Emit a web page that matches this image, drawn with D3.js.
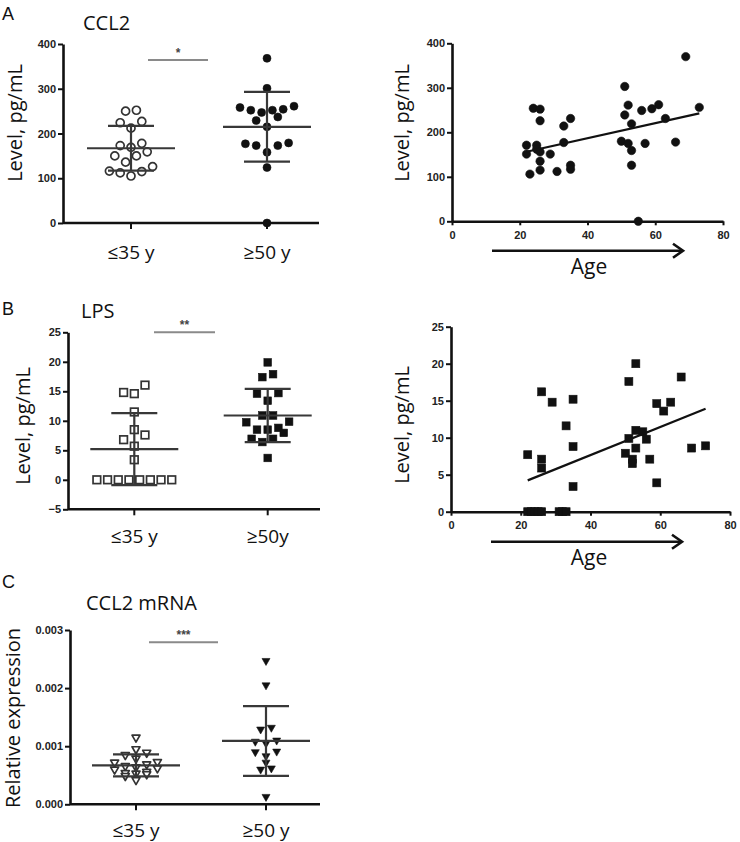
<!DOCTYPE html>
<html><head><meta charset="utf-8">
<script src="https://cdn.jsdelivr.net/npm/d3@7"></script>
<style>
html,body{margin:0;padding:0;background:#fff;}
svg{display:block;}
.tick text{font-family:"Liberation Sans",Arial,sans-serif;font-weight:bold;font-size:11px;fill:#222;}
.lbl{font-family:"Open Sans",sans-serif;fill:#111;}
.letter{font-family:"Liberation Sans",Arial,sans-serif;font-size:18px;fill:#111;}
</style></head><body>
<svg id="chart" width="740" height="842"></svg>
<script>
// ---------- data ----------
const groups = ["young", "old"];
const groupLabelsA = ["≤35 y", "≥50 y"];
const groupLabelsB = ["≤35 y", "≥50y"];
const groupLabelsC = ["≤35 y", "≥50 y"];

// Panel A: CCL2 (pg/mL)
const ccl2Young = [252, 250, 227, 224, 212, 178, 173, 169, 159, 150, 150, 136, 126, 116, 115, 112, 105];
const ccl2Old = [368, 301, 261, 258, 254, 252, 252, 247, 237, 229, 215, 179, 177, 173, 173, 158, 124, 0];
const ccl2Mean = [167, 215];
const ccl2SD = [50, 78];
const ccl2Age = [22, 22, 23, 24, 26, 26, 25, 25, 26, 26, 26, 29, 31, 33, 33, 35, 35, 35,
                 51, 51, 52, 50, 52, 53, 53, 53, 56, 59, 61, 57, 63, 66, 69, 73, 55];
const ccl2Level = [171, 151, 106, 254, 252, 226, 171, 162, 156, 135, 115, 151, 112, 214, 177, 231, 126, 117,
                   303, 239, 261, 180, 175, 159, 126, 219, 249, 253, 262, 175, 231, 178, 370, 256, 0];
const ccl2Ticks = [0, 100, 200, 300, 400];

// Panel B: LPS (pg/mL)
const lpsYoung = [16.05, 14.8, 14.6, 11.5, 8.5, 7.6, 6.8, 5.7, 3.4, 0, 0, 0, 0, 0, 0, 0, 0];
const lpsOld = [19.9, 17.9, 17.4, 14.7, 14.6, 13.4, 10.9, 10.9, 9.85, 9.75, 8.8, 8.5, 8.5, 7.95, 6.95, 6.95, 6.4, 3.7];
const lpsMean = [5.2, 10.9];
const lpsSD = [6.1, 4.5];
const lpsAge = [22, 26, 26, 26, 29, 35, 33, 35, 35, 22, 23, 24, 25, 26, 31, 32, 33,
                51, 53, 51, 50, 52, 52, 53, 53, 55, 56, 57, 59, 59, 61, 63, 66, 69, 73];
const lpsLevel = [7.7, 16.2, 7.1, 5.9, 14.8, 15.2, 11.6, 8.8, 3.4, 0, 0, 0, 0, 0, 0, 0, 0,
                  17.6, 20.0, 9.9, 7.9, 7.1, 6.5, 8.6, 11.0, 10.8, 9.8, 7.1, 14.6, 3.9, 13.6, 14.8, 18.2, 8.6, 8.9];
const lpsTicks = [-5, 0, 5, 10, 15, 20, 25];
const lpsScatterTicks = [0, 5, 10, 15, 20, 25];

// Panel C: CCL2 mRNA (relative expression)
const mrnaYoung = [0.00115, 0.00095, 0.00089, 0.00085, 0.00079, 0.00073, 0.00072, 0.00069, 0.00066,
                   0.00064, 0.00062, 0.00060, 0.00056, 0.00054, 0.00053, 0.00052, 0.00049, 0.00042];
const mrnaOld = [0.00247, 0.00205, 0.00132, 0.00129, 0.00110, 0.00108, 0.00105, 0.00091, 0.00090,
                 0.00083, 0.00072, 0.00062, 0.00060, 0.00013];
const mrnaMean = [0.00067, 0.00109];
const mrnaSD = [0.00019, 0.00060];
const mrnaTicks = [0, 0.001, 0.002, 0.003];

const ageTicks = [0, 20, 40, 60, 80];

// ---------- drawing ----------
const svg = d3.select("#chart");
const INK = "#111";
const MEANC = "#383838";

function rowOffsets(vals, y, h, d) {
  const idx = vals.map((v, i) => i).sort((a, b) => vals[a] - vals[b]);
  const off = new Array(vals.length).fill(0);
  let i = 0;
  while (i < idx.length) {
    const start = y(vals[idx[i]]);
    let j = i;
    while (j + 1 < idx.length && Math.abs(y(vals[idx[j + 1]]) - start) < h) j++;
    const row = idx.slice(i, j + 1), n = row.length;
    const slots = d3.range(n).map(k => (k - (n - 1) / 2) * d)
      .sort((a, b) => (Math.abs(a) - Math.abs(b)) || (a - b));
    row.forEach((r, k) => off[r] = slots[k]);
    i = j + 1;
  }
  return off;
}

function marker(sel, shape, filled, size) {
  const fill = filled ? INK : "#fff";
  const sw = filled ? 0.6 : 1.7;
  if (shape === "circle") {
    sel.append("circle").attr("r", size).attr("fill", fill).attr("stroke", filled ? INK : "#333").attr("stroke-width", sw);
  } else if (shape === "square") {
    sel.append("rect").attr("x", -size).attr("y", -size).attr("width", 2 * size).attr("height", 2 * size)
      .attr("fill", fill).attr("stroke", filled ? INK : "#333").attr("stroke-width", sw);
  } else {
    const w = size * 2, h = size * 1.75;
    sel.append("path").attr("d", `M${-w / 2},${-h / 3}L${w / 2},${-h / 3}L0,${2 * h / 3}Z`)
      .attr("fill", fill).attr("stroke", filled ? INK : "#333").attr("stroke-width", sw).attr("stroke-linejoin", "round");
  }
}

function styleAxis(g) {
  g.select(".domain").attr("stroke", INK).attr("stroke-width", 2.6);
  g.selectAll(".tick line").attr("stroke", INK).attr("stroke-width", 2);
}

function yLabel(text, cx, cy, size) {
  svg.append("text").attr("class", "lbl").attr("transform", `translate(${cx},${cy}) rotate(-90)`)
    .attr("text-anchor", "middle").attr("dy", "0.35em").style("font-size", size + "px").text(text);
}

function groupPanel(c) {
  const g = svg.append("g");
  const y = d3.scaleLinear().domain(c.domain).range([c.bottom, c.top]);
  const x = d3.scalePoint().domain(groups).range(c.centers);

  g.append("line").attr("x1", c.axisX).attr("x2", c.axisEnd).attr("y1", c.bottom).attr("y2", c.bottom)
    .attr("stroke", INK).attr("stroke-width", 2.6);
  groups.forEach(k => g.append("line").attr("x1", x(k)).attr("x2", x(k)).attr("y1", c.bottom).attr("y2", c.bottom + 6)
    .attr("stroke", INK).attr("stroke-width", 2));
  g.append("g").attr("transform", `translate(${c.axisX},0)`)
    .call(d3.axisLeft(y).tickValues(c.ticks).tickSize(5).tickSizeOuter(0).tickPadding(2).tickFormat(c.fmt))
    .call(styleAxis);
  groups.forEach((k, i) => g.append("text").attr("class", "lbl").attr("x", x(k)).attr("y", c.labelY)
    .attr("text-anchor", "middle").style("font-size", "19px").text(c.labels[i]));

  c.series.forEach((vals, gi) => {
    const off = rowOffsets(vals, y, c.rowH, c.spacing);
    vals.forEach((v, i) => {
      const m = g.append("g").attr("transform", `translate(${x(groups[gi]) + off[i]},${y(v)})`);
      marker(m, c.shape, gi === 1, c.size);
    });
  });
  groups.forEach((k, gi) => {
    const cx = x(k), m = c.mean[gi], s = c.sd[gi];
    const ln = (x1, x2, y1, y2) => g.append("line").attr("x1", x1).attr("x2", x2).attr("y1", y1).attr("y2", y2)
      .attr("stroke", MEANC).attr("stroke-width", 2.2);
    ln(cx - 44, cx + 44, y(m), y(m));
    ln(cx, cx, y(m - s), y(m + s));
    ln(cx - 23, cx + 23, y(m + s), y(m + s));
    ln(cx - 23, cx + 23, y(m - s), y(m - s));
  });
  g.append("line").attr("x1", c.sig.x1).attr("x2", c.sig.x2).attr("y1", c.sig.y).attr("y2", c.sig.y)
    .attr("stroke", "#8a8a8a").attr("stroke-width", 2);
  g.append("text").attr("x", (c.sig.x1 + c.sig.x2) / 2).attr("y", c.sig.y - 3).attr("text-anchor", "middle")
    .style("font-family", "Liberation Sans, Arial, sans-serif").style("font-size", "12px").style("font-weight", "bold")
    .attr("fill", "#444").text(c.sig.text);
  g.append("text").attr("class", "lbl").attr("x", c.titleX).attr("y", c.titleY).style("font-size", "20px").text(c.title);
  g.append("text").attr("class", "letter").attr("x", 2).attr("y", c.letterY).text(c.letter);
  yLabel(c.yLabel, c.yLabelX, c.yLabelY, 20);
}

function scatterPanel(c) {
  const g = svg.append("g");
  const x = d3.scaleLinear().domain([0, 80]).range([c.left, c.right]);
  const y = d3.scaleLinear().domain(c.domain).range([c.bottom, c.top]);
  g.append("g").attr("transform", `translate(0,${c.bottom})`)
    .call(d3.axisBottom(x).tickValues(ageTicks).tickSize(4).tickSizeOuter(0).tickPadding(6))
    .call(styleAxis);
  g.append("g").attr("transform", `translate(${c.left},0)`)
    .call(d3.axisLeft(y).tickValues(c.ticks).tickSize(5).tickSizeOuter(0).tickPadding(2))
    .call(styleAxis);
  c.ages.forEach((a, i) => {
    const m = g.append("g").attr("transform", `translate(${x(a)},${y(c.levels[i])})`);
    marker(m, c.shape, true, c.size);
  });
  const mx = d3.mean(c.ages), my = d3.mean(c.levels);
  const slope = d3.sum(c.ages, (a, i) => (a - mx) * (c.levels[i] - my)) / d3.sum(c.ages, a => (a - mx) ** 2);
  const [a0, a1] = d3.extent(c.ages);
  g.append("line").attr("x1", x(a0)).attr("x2", x(a1))
    .attr("y1", y(my + slope * (a0 - mx))).attr("y2", y(my + slope * (a1 - mx)))
    .attr("stroke", INK).attr("stroke-width", 2.2);
  const ax0 = c.left + 40, ax1 = c.left + 231;
  g.append("line").attr("x1", ax0).attr("x2", ax1 - 1).attr("y1", c.arrowY).attr("y2", c.arrowY)
    .attr("stroke", INK).attr("stroke-width", 2.6);
  g.append("path").attr("d", `M${ax1 - 10},${c.arrowY - 7}L${ax1},${c.arrowY}L${ax1 - 10},${c.arrowY + 7}`)
    .attr("fill", "none").attr("stroke", INK).attr("stroke-width", 2.6);
  g.append("text").attr("class", "lbl").attr("x", 589).attr("y", c.ageY).attr("text-anchor", "middle")
    .style("font-size", "21px").text("Age");
  yLabel("Level, pg/mL", 402, c.yLabelY, 20);
}

groupPanel({
  domain: [0, 400], top: 44, bottom: 223, ticks: ccl2Ticks, fmt: d3.format("d"),
  axisX: 63, axisEnd: 319, centers: [131, 267], labelY: 259, labels: groupLabelsA,
  series: [ccl2Young, ccl2Old], mean: ccl2Mean, sd: ccl2SD, shape: "circle", size: 4,
  rowH: 12, spacing: 10.8,
  sig: { x1: 148, x2: 208, y: 60, text: "*" },
  title: "CCL2", titleX: 83, titleY: 30, letter: "A", letterY: 20,
  yLabel: "Level, pg/mL", yLabelX: 15, yLabelY: 123
});

groupPanel({
  domain: [-5, 25], top: 332.3, bottom: 509.3, ticks: lpsTicks, fmt: d3.format("d"),
  axisX: 68, axisEnd: 320, centers: [134.3, 267.7], labelY: 543, labels: groupLabelsB,
  series: [lpsYoung, lpsOld], mean: lpsMean, sd: lpsSD, shape: "square", size: 3.8,
  rowH: 12, spacing: 10.7,
  sig: { x1: 154, x2: 215, y: 332.3, text: "**" },
  title: "LPS", titleX: 81, titleY: 318, letter: "B", letterY: 315,
  yLabel: "Level, pg/mL", yLabelX: 23, yLabelY: 426
});

groupPanel({
  domain: [0, 0.003], top: 630, bottom: 804.3, ticks: mrnaTicks, fmt: d3.format(".3f"),
  axisX: 70, axisEnd: 320, centers: [136, 266], labelY: 837, labels: groupLabelsC,
  series: [mrnaYoung, mrnaOld], mean: mrnaMean, sd: mrnaSD, shape: "triangle", size: 4,
  rowH: 6, spacing: 10.7,
  sig: { x1: 149, x2: 218, y: 642.3, text: "***" },
  title: "CCL2 mRNA", titleX: 86, titleY: 610, letter: "C", letterY: 588,
  yLabel: "Relative expression", yLabelX: 13, yLabelY: 718
});

scatterPanel({
  left: 452, right: 723, top: 43.3, bottom: 221.3, domain: [0, 400], ticks: ccl2Ticks,
  ages: ccl2Age, levels: ccl2Level, shape: "circle", size: 4.2,
  arrowY: 250.7, ageY: 274, yLabelY: 123
});

scatterPanel({
  left: 451, right: 730, top: 326.7, bottom: 511.7, domain: [0, 25], ticks: lpsScatterTicks,
  ages: lpsAge, levels: lpsLevel, shape: "square", size: 4,
  arrowY: 541.7, ageY: 565, yLabelY: 425
});
</script></body></html>
